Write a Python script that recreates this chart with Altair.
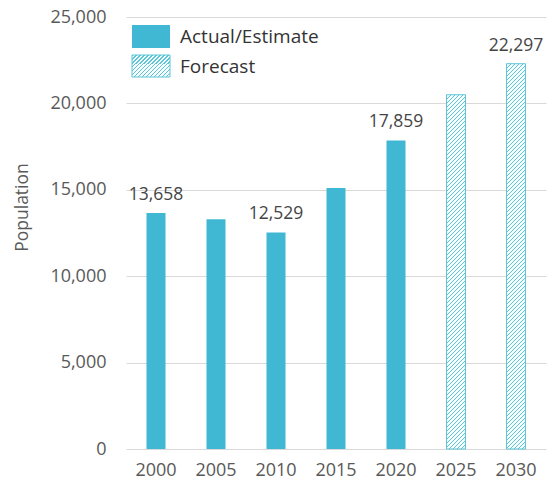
import altair as alt
import pandas as pd

# ---- data ----
years = ["2000", "2005", "2010", "2015", "2020", "2025", "2030"]
population = [13658, 13300, 12529, 15100, 17859, 20500, 22297]
kind = ["Actual/Estimate", "Actual/Estimate", "Actual/Estimate", "Actual/Estimate",
        "Actual/Estimate", "Forecast", "Forecast"]
labelled_years = ["2000", "2010", "2020", "2030"]
legend_labels = ["Actual/Estimate", "Forecast"]
y_ticks = [0, 5000, 10000, 15000, 20000, 25000]

df = pd.DataFrame({"year": years, "population": population, "kind": kind})
df["show"] = df["year"].isin(labelled_years)
leg = pd.DataFrame({"label": legend_labels})

# ---- style ----
FONT = "Open Sans"
SOLID = "#41b8d3"
HATCH_LINE = "#5cc6d8"
HATCH_BG = "#f7fcfd"
HATCH_STROKE = "#5cc6d8"
AXIS_GREY = "#595959"
W, H = 420, 432
Y_MAX = 25000
BAR_W = 19


def hatch(w, h, period=4.0, line=1.4):
    """Diagonal '/' hatch as a hard-stop linear gradient (bbox units)."""
    k = (w + h) / (w * w + h * h)
    total = w + h
    stops = []
    c = 0.0
    while c < total:
        a = c / total
        b = min((c + line) / total, 1.0)
        e = min((c + period) / total, 1.0)
        stops += [
            {"offset": a, "color": HATCH_LINE},
            {"offset": b, "color": HATCH_LINE},
            {"offset": b, "color": HATCH_BG},
            {"offset": e, "color": HATCH_BG},
        ]
        c += period
    return alt.LinearGradient(gradient="linear", stops=stops,
                              x1=0, y1=0, x2=w * k, y2=h * k)


base = alt.Chart(df)

x_enc = alt.X("year:N", title=None,
              scale=alt.Scale(paddingInner=0, paddingOuter=0),
              axis=alt.Axis(labelAngle=0, labelFontSize=18, labelColor=AXIS_GREY,
                            labelFont=FONT, labelPadding=12, ticks=False,
                            domain=False, grid=False))
y_enc = alt.Y("population:Q", title="Population",
              scale=alt.Scale(domain=[0, Y_MAX], nice=False),
              axis=alt.Axis(values=y_ticks, labelExpr="format(datum.value, ',')",
                            grid=True, gridColor="#d9d9d9",
                            gridWidth=1, domain=False, ticks=False,
                            labelFontSize=18, labelColor=AXIS_GREY, labelFont=FONT,
                            labelPadding=20, titleFontSize=17.5, titleColor=AXIS_GREY,
                            titleFont=FONT, titleFontWeight="normal",
                            titleX=-104, titleY=190, titleBaseline="middle",
                            titleAlign="center", titleAngle=270))

solid = base.transform_filter(alt.datum.kind == "Actual/Estimate").mark_bar(
    size=BAR_W, color=SOLID).encode(x=x_enc, y=y_enc)

layers = [solid]
for yr, val, kd in zip(years, population, kind):
    if kd != "Forecast":
        continue
    hpx = val * H / Y_MAX
    layers.append(
        base.transform_filter(alt.datum.year == yr).mark_bar(
            size=BAR_W, color=hatch(BAR_W, hpx), stroke=HATCH_STROKE, strokeWidth=1
        ).encode(x=x_enc, y=y_enc)
    )

labels = base.transform_filter(alt.datum.show).mark_text(
    baseline="bottom", dy=-9, fontSize=17.5, font=FONT, color="#454545"
).encode(x=x_enc, y=y_enc, text=alt.Text("population:Q", format=","))
layers.append(labels)

# ---- legend (manual, so the hatched swatch can be drawn) ----
leg_base = alt.Chart(leg)
layers.append(
    leg_base.transform_filter(alt.datum.label == legend_labels[0]).mark_rect(color=SOLID)
    .encode(x=alt.value(6), x2=alt.value(44), y=alt.value(8), y2=alt.value(31))
)
layers.append(
    leg_base.transform_filter(alt.datum.label == legend_labels[1]).mark_rect(
        color=hatch(38, 23), stroke=HATCH_STROKE, strokeWidth=1)
    .encode(x=alt.value(6), x2=alt.value(44), y=alt.value(38), y2=alt.value(60))
)
layers.append(
    leg_base.transform_filter(alt.datum.label == legend_labels[0]).mark_text(
        align="left", baseline="middle", fontSize=19, font=FONT, color="#333333")
    .encode(x=alt.value(54), y=alt.value(20), text="label:N")
)
layers.append(
    leg_base.transform_filter(alt.datum.label == legend_labels[1]).mark_text(
        align="left", baseline="middle", fontSize=19, font=FONT, color="#333333")
    .encode(x=alt.value(54), y=alt.value(49.5), text="label:N")
)

chart = alt.layer(*layers).properties(
    width=W, height=H,
    autosize=alt.AutoSizeParams(type="none"),
    padding={"left": 126, "top": 17, "right": 9, "bottom": 38},
    background="white",
).configure_view(stroke=None)

chart.save("out.html", embed_options={"renderer": "svg", "actions": False})
